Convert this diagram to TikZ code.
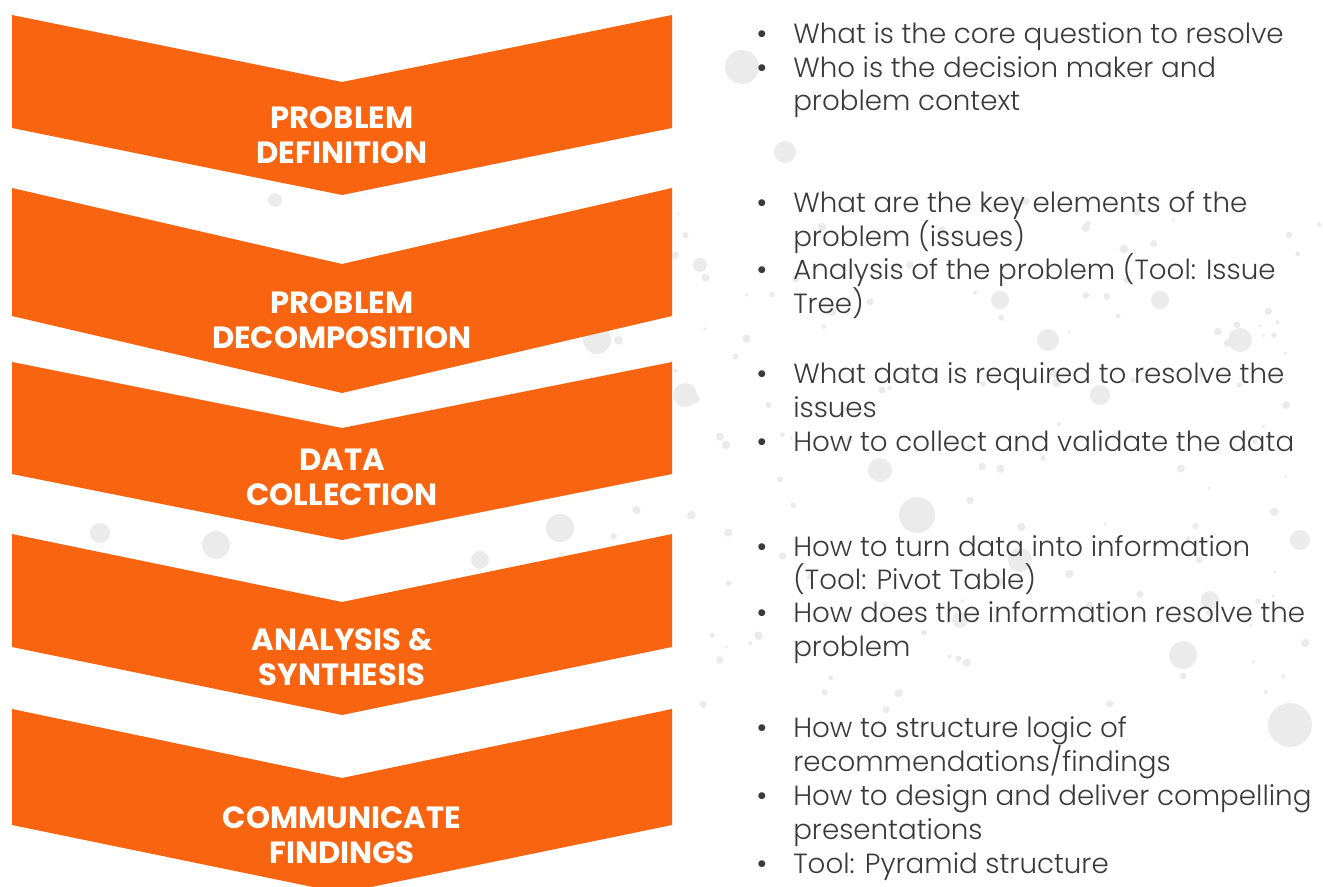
\documentclass[tikz,border=0pt]{standalone}
\usepackage{fontspec}
\setmainfont{Poppins}
\newfontfamily\notefont{Poppins Light}
\definecolor{stepOrange}{HTML}{F96410}
\definecolor{noteGray}{HTML}{3A3A3A}
\definecolor{splash}{HTML}{EBEBEB}
\tikzset{
    stage/.style={fill=stepOrange},
    stage label/.style={text=white, align=center, inner sep=0pt,
            font=\bfseries\fontsize{23}{26.25}\selectfont},
    note/.style={anchor=base west, inner sep=0pt, text=noteGray,
            font=\notefont\fontsize{20.8}{25}\selectfont},
    bulletmark/.style={anchor=base, inner sep=0pt, text=noteGray,
            font=\fontsize{21}{25}\selectfont},
    splashdot/.style={fill=splash},
}

\begin{document}
\begin{tikzpicture}[x=0.75pt, y=-0.75pt]
        \useasboundingbox (0, 0) rectangle (1323, 887);
        %draw faint splatter in the background
        \foreach \cx/\cy/\r in {742/67/17, 785/152/11, 1290/725/22, 1183/655/14,
                1048/340/11, 917/515/18, 597/340/14, 216/545/14, 100/533/10,
                560/528/14, 685/395/12, 1100/395/10, 1240/340/12, 880/470/12,
                1000/300/9, 1160/300/9, 1300/540/10, 1020/560/12, 660/580/10,
                30/250/8, 275/200/7, 480/560/9, 700/265/7, 1210/600/9, 960/620/8}
            \fill[splashdot] (\cx, \cy) circle [radius=\r];
        \pgfmathsetseed{17}
        \foreach \k in {1,...,140} {
            \pgfmathsetmacro{\cx}{600 + 720*rnd}
            \pgfmathsetmacro{\cy}{190 + 520*rnd}
            \pgfmathsetmacro{\r}{1.5 + 3*rnd}
            \fill[splashdot] (\cx, \cy) circle [radius=\r];
        }
        %draw the five chevrons
        \fill[stage] (12, 15) -- (342, 82) -- (672, 15) -- (672, 128) -- (342, 195) -- (12, 128) -- cycle;
        \fill[stage] (12, 188) -- (342, 264) -- (672, 188) -- (672, 316) -- (342, 393) -- (12, 316) -- cycle;
        \fill[stage] (12, 362) -- (342, 428) -- (672, 362) -- (672, 474) -- (342, 540) -- (12, 474) -- cycle;
        \fill[stage] (12, 534) -- (342, 602) -- (672, 534) -- (672, 647) -- (342, 715) -- (12, 647) -- cycle;
        \fill[stage] (12, 709) -- (342, 778) -- (672, 709) -- (672, 825) -- (342, 893) -- (12, 825) -- cycle;
        %label the chevrons
        \node[stage label] (definition) at (342, 135) {PROBLEM\\DEFINITION};
        \node[stage label] (decomposition) at (342, 320) {PROBLEM\\DECOMPOSITION};
        \node[stage label] (collection) at (342, 477) {DATA\\COLLECTION};
        \node[stage label] (analysis) at (342, 657) {ANALYSIS \&\\SYNTHESIS};
        \node[stage label] (communicate) at (342, 835) {COMMUNICATE\\FINDINGS};
        %bullets
        \foreach \y [count=\i] in {44, 78, 213, 280, 384, 451, 556, 622, 737, 805, 873}
            \node[bulletmark] (bullet\i) at (762, \y) {\textbullet};
        %notes beside each chevron
        \foreach \y/\txt [count=\i] in {
                44/{What is the core question to resolve},
                78/{Who is the decision maker and},
                111/{problem context},
                213/{What are the key elements of the},
                247/{problem (issues)},
                280/{Analysis of the problem (Tool: Issue},
                314/{Tree)},
                384/{What data is required to resolve the},
                417/{issues},
                451/{How to collect and validate the data},
                556/{How to turn data into information},
                589/{(Tool: Pivot Table)},
                622/{How does the information resolve the},
                656/{problem},
                737/{How to structure logic of},
                771/{recommendations/findings},
                805/{How to design and deliver compelling},
                839/{presentations},
                873/{Tool: Pyramid structure}}
            \node[note] (note\i) at (793, \y) {\txt};
    \end{tikzpicture}
\end{document}
